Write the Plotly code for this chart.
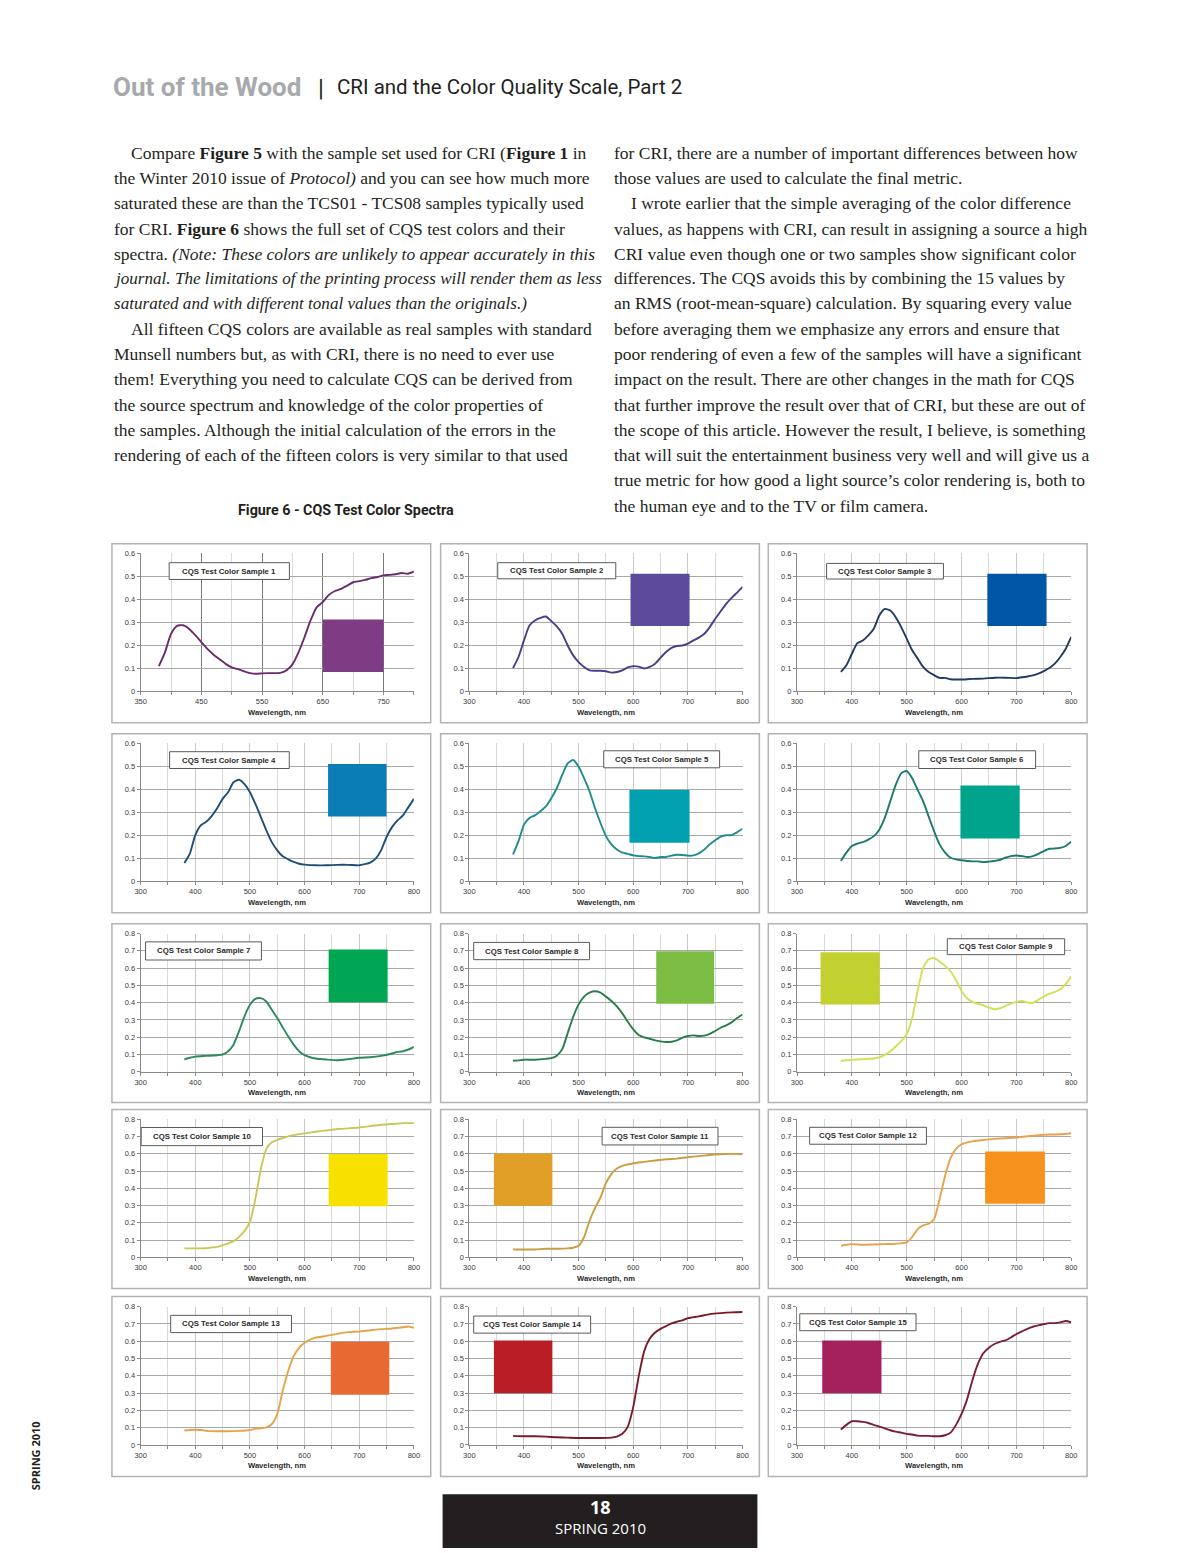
import plotly.graph_objects as go

# ---------------------------------------------------------------- data
S1_WL = list(range(380, 801, 10))
S1_R = [0.11, 0.17, 0.25, 0.285, 0.288, 0.272, 0.245, 0.215, 0.185, 0.16, 0.14, 0.12, 0.105, 0.097,
        0.088, 0.08, 0.077, 0.079, 0.08, 0.08, 0.081, 0.092, 0.118, 0.17, 0.237, 0.31, 0.367, 0.389,
        0.42, 0.437, 0.446, 0.46, 0.475, 0.48, 0.485, 0.493, 0.498, 0.505, 0.507, 0.51, 0.515, 0.512, 0.522]

S2_WL = list(range(380, 801, 10))
S2_R = [0.102, 0.15, 0.222, 0.287, 0.309, 0.32, 0.326, 0.306, 0.283, 0.251, 0.2, 0.157, 0.128, 0.107,
        0.092, 0.09, 0.09, 0.088, 0.082, 0.085, 0.092, 0.105, 0.11, 0.108, 0.1, 0.107, 0.121, 0.147,
        0.172, 0.19, 0.198, 0.2, 0.208, 0.222, 0.234, 0.251, 0.28, 0.316, 0.349, 0.381, 0.407, 0.43, 0.455]

S3_WL = list(range(380, 601, 10)) + [620, 640, 660, 680, 700, 710, 720, 730, 740, 750, 760, 770, 780, 790, 800]
S3_R = [0.085, 0.114, 0.164, 0.21, 0.222, 0.244, 0.273, 0.33, 0.359, 0.352, 0.323, 0.28, 0.23, 0.179,
        0.143, 0.107, 0.085, 0.071, 0.059, 0.059, 0.053, 0.052, 0.052, 0.055, 0.056, 0.06, 0.06, 0.058,
        0.062, 0.065, 0.07, 0.078, 0.089, 0.102, 0.121, 0.15, 0.186, 0.237]

S4_WL = list(range(380, 601, 10)) + [620, 640, 660, 680, 700, 710, 720, 730, 740, 750, 760, 770, 780, 790, 800]
S4_R = [0.079, 0.12, 0.2, 0.243, 0.258, 0.283, 0.317, 0.358, 0.387, 0.43, 0.441, 0.422, 0.387, 0.336,
        0.279, 0.221, 0.17, 0.134, 0.108, 0.095, 0.084, 0.076, 0.072, 0.069, 0.069, 0.071, 0.071, 0.069,
        0.074, 0.081, 0.098, 0.134, 0.192, 0.235, 0.264, 0.286, 0.322, 0.358]

S5_WL = list(range(380, 801, 10))
S5_R = [0.117, 0.174, 0.246, 0.275, 0.286, 0.304, 0.325, 0.361, 0.404, 0.462, 0.512, 0.527, 0.498, 0.448,
        0.39, 0.318, 0.253, 0.196, 0.16, 0.138, 0.124, 0.119, 0.112, 0.109, 0.108, 0.105, 0.101, 0.105,
        0.105, 0.111, 0.115, 0.114, 0.111, 0.112, 0.121, 0.138, 0.16, 0.178, 0.194, 0.2, 0.2, 0.213, 0.228]

S6_WL = list(range(380, 801, 10))
S6_R = [0.088, 0.124, 0.153, 0.163, 0.17, 0.181, 0.196, 0.224, 0.275, 0.347, 0.419, 0.469, 0.479, 0.448,
        0.397, 0.347, 0.282, 0.217, 0.16, 0.124, 0.102, 0.095, 0.091, 0.088, 0.086, 0.086, 0.083, 0.085,
        0.088, 0.092, 0.102, 0.109, 0.112, 0.109, 0.105, 0.109, 0.119, 0.131, 0.141, 0.142, 0.145, 0.153, 0.171]

S7_WL = [380, 390, 400, 420, 440, 450] + list(range(460, 621, 10)) + [640, 660, 680, 700, 720, 740, 760, 770, 780, 790, 800]
S7_R = [0.071, 0.081, 0.088, 0.092, 0.096, 0.1, 0.119, 0.157, 0.234, 0.321, 0.388, 0.422, 0.426, 0.407,
        0.359, 0.311, 0.257, 0.205, 0.157, 0.119, 0.096, 0.084, 0.077, 0.071, 0.067, 0.073, 0.081, 0.084,
        0.092, 0.106, 0.115, 0.119, 0.129, 0.144]

S8_WL = [380, 390, 400, 420, 440, 450] + list(range(460, 801, 10))
S8_R = [0.064, 0.066, 0.07, 0.07, 0.075, 0.079, 0.093, 0.131, 0.224, 0.317, 0.39, 0.435, 0.458, 0.466,
        0.458, 0.435, 0.41, 0.379, 0.338, 0.29, 0.245, 0.213, 0.199, 0.191, 0.182, 0.176, 0.172, 0.174,
        0.182, 0.197, 0.207, 0.211, 0.207, 0.209, 0.22, 0.236, 0.255, 0.269, 0.286, 0.311, 0.332]

S9_WL = [380, 390, 400, 420, 440, 450] + list(range(460, 801, 10))
S9_R = [0.062, 0.067, 0.069, 0.073, 0.077, 0.083, 0.098, 0.119, 0.146, 0.177, 0.218, 0.312, 0.468, 0.603,
        0.651, 0.659, 0.638, 0.613, 0.582, 0.53, 0.468, 0.426, 0.405, 0.393, 0.385, 0.372, 0.362, 0.368,
        0.38, 0.395, 0.405, 0.41, 0.401, 0.399, 0.416, 0.437, 0.451, 0.462, 0.478, 0.509, 0.551]

S10_WL = [380, 400, 420] + list(range(430, 581, 10)) + list(range(600, 801, 20))
S10_R = [0.052, 0.052, 0.053, 0.058, 0.061, 0.071, 0.081, 0.094, 0.119, 0.152, 0.205, 0.34, 0.512, 0.628,
         0.666, 0.681, 0.691, 0.701, 0.708, 0.718, 0.727, 0.735, 0.743, 0.747, 0.752, 0.76, 0.768, 0.772,
         0.777, 0.777]

S11_WL = [380, 400, 420, 440, 460, 480, 490] + list(range(500, 601, 10)) + list(range(620, 801, 20))
S11_R = [0.046, 0.046, 0.046, 0.05, 0.05, 0.052, 0.056, 0.067, 0.118, 0.212, 0.285, 0.347, 0.43, 0.482,
         0.514, 0.53, 0.538, 0.545, 0.553, 0.561, 0.568, 0.572, 0.58, 0.586, 0.593, 0.597, 0.599, 0.597]

S12_WL = [380, 390, 400, 420, 440, 460, 480] + list(range(500, 601, 10)) + list(range(620, 801, 20))
S12_R = [0.067, 0.073, 0.077, 0.073, 0.075, 0.077, 0.079, 0.087, 0.118, 0.164, 0.185, 0.195, 0.222, 0.337,
         0.472, 0.576, 0.628, 0.655, 0.672, 0.68, 0.686, 0.69, 0.694, 0.701, 0.707, 0.711, 0.713, 0.719]

S13_WL = [380, 390, 400, 410, 420, 440, 460, 480] + list(range(500, 621, 10)) + list(range(640, 781, 20)) + [790, 800]
S13_R = [0.083, 0.086, 0.088, 0.086, 0.081, 0.079, 0.079, 0.081, 0.086, 0.094, 0.096, 0.102, 0.121, 0.178,
         0.313, 0.428, 0.514, 0.562, 0.591, 0.61, 0.62, 0.631, 0.643, 0.653, 0.656, 0.664, 0.67, 0.674,
         0.681, 0.685, 0.678]

S14_WL = list(range(380, 561, 20)) + list(range(570, 701, 10)) + list(range(720, 801, 20))
S14_R = [0.052, 0.05, 0.05, 0.048, 0.044, 0.042, 0.04, 0.04, 0.04, 0.042, 0.048, 0.064, 0.106, 0.22,
         0.397, 0.543, 0.615, 0.651, 0.672, 0.688, 0.703, 0.713, 0.721, 0.734, 0.744, 0.757, 0.763,
         0.767, 0.769]

S15_WL = list(range(380, 801, 10))
S15_R = [0.089, 0.116, 0.137, 0.137, 0.133, 0.127, 0.116, 0.106, 0.096, 0.085, 0.077, 0.071, 0.064, 0.06,
         0.054, 0.052, 0.052, 0.05, 0.05, 0.056, 0.071, 0.116, 0.179, 0.262, 0.376, 0.47, 0.532, 0.563,
         0.584, 0.597, 0.605, 0.622, 0.642, 0.657, 0.672, 0.684, 0.692, 0.699, 0.705, 0.705, 0.709,
         0.717, 0.709]

SAMPLE_NAMES = [f"CQS Test Color Sample {i}" for i in range(1, 16)]
X_TICK_STARTS = [350] + [300] * 14
Y_MAX = [0.6] * 6 + [0.8] * 9
X_TITLE = "Wavelength, nm"

SERIES = [(S1_WL, S1_R), (S2_WL, S2_R), (S3_WL, S3_R), (S4_WL, S4_R), (S5_WL, S5_R),
          (S6_WL, S6_R), (S7_WL, S7_R), (S8_WL, S8_R), (S9_WL, S9_R), (S10_WL, S10_R),
          (S11_WL, S11_R), (S12_WL, S12_R), (S13_WL, S13_R), (S14_WL, S14_R), (S15_WL, S15_R)]

# ---------------------------------------------------------------- styles / layout
LINE_COLORS = ["#6B2C6E", "#4A3D8A", "#1F3B63", "#1E4F78", "#1E8C8E", "#1B7A6E", "#2E8A5C", "#2A7D4B",
               "#D4DF55", "#CCC658", "#CC9C42", "#E9A24C", "#E3A547", "#7A1A28", "#7A1B3C"]
SWATCH_COLORS = ["#7D3C84", "#5C4B9B", "#0056A6", "#0A7DB5", "#00A0B0", "#00A48C", "#00A651", "#7BBE43",
                 "#C2D12F", "#F8E000", "#E09F26", "#F7921E", "#E86A33", "#B81E24", "#A5215E"]
# swatch rectangle (x0, x1, y0, y1) and caption box (x0, x1, y0, y1), in each panel's axis units
SWATCH_POS = [(650, 750, 0.085, 0.313), (595, 703, 0.285, 0.512), (647, 755, 0.285, 0.512),
              (643, 750, 0.281, 0.509), (593, 703, 0.167, 0.396), (598, 706, 0.186, 0.416),
              (644, 752, 0.403, 0.708), (642, 748, 0.394, 0.698), (343, 451, 0.389, 0.692),
              (644, 752, 0.296, 0.599), (345, 452, 0.299, 0.601), (643, 752, 0.31, 0.613),
              (648, 755, 0.29, 0.597), (345, 452, 0.299, 0.605), (346, 454, 0.299, 0.605)]
CAPTION_POS = [(397, 595, 0.487, 0.56), (352, 568, 0.49, 0.56), (354, 567, 0.489, 0.557),
               (353, 572, 0.49, 0.563), (546, 758, 0.493, 0.567), (522, 735, 0.49, 0.567),
               (309, 521, 0.647, 0.752), (308, 520, 0.649, 0.749), (574, 788, 0.678, 0.77),
               (301, 523, 0.647, 0.752), (543, 755, 0.651, 0.753), (323, 536, 0.655, 0.753),
               (355, 576, 0.65, 0.75), (308, 522, 0.647, 0.746), (305, 517, 0.661, 0.759)]

W, H = 1200, 1553


def px(x):
    return x / W


def py(y):
    return 1 - y / H


PLOT_COLS = [(136, 412), (468, 744), (799, 1076)]
PLOT_ROWS = [(552.7, 691.5), (743.5, 882.3), (935, 1074), (1121.7, 1260.7), (1310.3, 1449.3)]
BOX_COLS = [(107, 429), (439, 761), (770, 1092)]
BOX_ROWS = [(543, 723), (734, 914), (925, 1105), (1112, 1292), (1300, 1481)]

TEXT = "#231f20"
SERIF = "Liberation Serif"
SANS = "Liberation Sans, Arial"

fig = go.Figure()
shapes = []
annotations = []
layout_axes = {}

for i, (wl, refl) in enumerate(SERIES):
    n = i + 1
    r, c = divmod(i, 3)
    xs = "x" if n == 1 else f"x{n}"
    ys = "y" if n == 1 else f"y{n}"
    fig.add_trace(go.Scatter(x=wl, y=refl, mode="lines", xaxis=xs, yaxis=ys,
                             line=dict(color=LINE_COLORS[i], width=1.9, shape="spline", smoothing=0.6),
                             showlegend=False, hoverinfo="x+y"))
    x0p, x1p = PLOT_COLS[c]
    ytp, ybp = PLOT_ROWS[r]
    xmin = X_TICK_STARTS[i]
    major_grid = "#7a7a7a" if n == 1 else "#c9c9c9"
    layout_axes["xaxis" if n == 1 else f"xaxis{n}"] = dict(
        domain=[px(x0p), px(x1p)], anchor=ys, range=[xmin, 800], tick0=xmin, dtick=100,
        showgrid=True, gridcolor=major_grid, gridwidth=1,
        minor=dict(dtick=50, tick0=xmin, showgrid=True, gridcolor="#dadada", gridwidth=1,
                   ticks="outside", ticklen=3, tickcolor="#8a8a8a"),
        ticks="outside", ticklen=3, tickcolor="#8a8a8a",
        showline=True, linecolor="#8a8a8a", linewidth=1, zeroline=False,
        tickfont=dict(family=SANS, size=7.5, color="#3a3a3a"), fixedrange=True)
    layout_axes["yaxis" if n == 1 else f"yaxis{n}"] = dict(
        domain=[py(ybp), py(ytp)], anchor=xs, range=[0, Y_MAX[i]], dtick=0.1, tick0=0,
        showgrid=True, gridcolor="#a9a9a9", gridwidth=1,
        ticks="outside", ticklen=3, tickcolor="#8a8a8a",
        showline=True, linecolor="#8a8a8a", linewidth=1, zeroline=False,
        tickfont=dict(family=SANS, size=7.5, color="#3a3a3a"), fixedrange=True)

    # panel frame
    bx0, bx1 = BOX_COLS[c]
    by0, by1 = BOX_ROWS[r]
    shapes.append(dict(type="rect", xref="paper", yref="paper", x0=px(bx0), x1=px(bx1),
                       y0=py(by1), y1=py(by0), line=dict(color="#b3b3b3", width=1.5), layer="below"))
    # colour swatch
    sx0, sx1, sy0, sy1 = SWATCH_POS[i]
    shapes.append(dict(type="rect", xref=xs, yref=ys, x0=sx0, x1=sx1, y0=sy0, y1=sy1,
                       fillcolor=SWATCH_COLORS[i], line=dict(width=0), layer="between"))
    # caption box
    cx0, cx1, cy0, cy1 = CAPTION_POS[i]
    shapes.append(dict(type="rect", xref=xs, yref=ys, x0=cx0, x1=cx1, y0=cy0, y1=cy1,
                       fillcolor="white", line=dict(color="#5a5a5a", width=1), layer="above"))
    annotations.append(dict(xref=xs, yref=ys, x=(cx0 + cx1) / 2, y=(cy0 + cy1) / 2,
                            text=f"<b>{SAMPLE_NAMES[i]}</b>", showarrow=False,
                            font=dict(family=SANS, size=7.8, color="#2a2a2a"),
                            xanchor="center", yanchor="middle"))
    # x axis title
    annotations.append(dict(xref="paper", yref="paper", x=px((x0p + x1p) / 2), y=py(ybp + 21),
                            text=f"<b>{X_TITLE}</b>", showarrow=False,
                            font=dict(family=SANS, size=7.6, color="#2a2a2a"),
                            xanchor="center", yanchor="middle"))

# ---------------------------------------------------------------- page text
LEFT_LINES = [
    (124, 150, "Compare <b>Figure 5</b> with the sample set used for CRI (<b>Figure 1</b> in"),
    (107, 175, "the Winter 2010 issue of <i>Protocol)</i> and you can see how much more"),
    (107, 200, "saturated these are than the TCS01 - TCS08 samples typically used"),
    (107, 226, "for CRI. <b>Figure 6</b> shows the full set of CQS test colors and their"),
    (107, 251, "spectra. <i>(Note: These colors are unlikely to appear accurately in this</i>"),
    (107, 276, "<i>journal. The limitations of the printing process will render them as less</i>"),
    (107, 301, "<i>saturated and with different tonal values than the originals.)</i>"),
    (124, 327, "All fifteen CQS colors are available as real samples with standard"),
    (107, 352, "Munsell numbers but, as with CRI, there is no need to ever use"),
    (107, 377, "them! Everything you need to calculate CQS can be derived from"),
    (107, 403, "the source spectrum and knowledge of the color properties of"),
    (107, 428, "the samples. Although the initial calculation of the errors in the"),
    (107, 454, "rendering of each of the fifteen colors is very similar to that used"),
]
RIGHT_LINES = [
    (612, 150, "for CRI, there are a number of important differences between how"),
    (612, 175, "those values are used to calculate the final metric."),
    (629, 200, "I wrote earlier that the simple averaging of the color difference"),
    (612, 226, "values, as happens with CRI, can result in assigning a source a high"),
    (612, 251, "CRI value even though one or two samples show significant color"),
    (612, 276, "differences. The CQS avoids this by combining the 15 values by"),
    (612, 301, "an RMS (root-mean-square) calculation. By squaring every value"),
    (612, 327, "before averaging them we emphasize any errors and ensure that"),
    (612, 352, "poor rendering of even a few of the samples will have a significant"),
    (612, 377, "impact on the result. There are other changes in the math for CQS"),
    (612, 403, "that further improve the result over that of CRI, but these are out of"),
    (612, 428, "the scope of this article. However the result, I believe, is something"),
    (612, 454, "that will suit the entertainment business very well and will give us a"),
    (612, 479, "true metric for how good a light source\u2019s color rendering is, both to"),
    (612, 505, "the human eye and to the TV or film camera."),
]
for (x, y, t) in LEFT_LINES + RIGHT_LINES:
    size = 17.1 if t.startswith("<i>") else 17.5
    annotations.append(dict(xref="paper", yref="paper", x=px(x), y=py(y), text=t, showarrow=False,
                            xanchor="left", yanchor="middle",
                            font=dict(family=SERIF, size=size, color=TEXT)))

# header
annotations.append(dict(xref="paper", yref="paper", x=px(106), y=py(83), text="<b>Out of the Wood</b>",
                        showarrow=False, xanchor="left", yanchor="middle",
                        font=dict(family="Roboto", size=26, color="#a7a9ac")))
annotations.append(dict(xref="paper", yref="paper", x=px(318), y=py(84), text="|",
                        showarrow=False, xanchor="center", yanchor="middle",
                        font=dict(family="Roboto", size=24, color=TEXT)))
annotations.append(dict(xref="paper", yref="paper", x=px(332), y=py(83),
                        text="CRI and the Color Quality Scale, Part 2",
                        showarrow=False, xanchor="left", yanchor="middle",
                        font=dict(family="Roboto", size=20.5, color=TEXT)))
# figure title
annotations.append(dict(xref="paper", yref="paper", x=px(343), y=py(509),
                        text="<b>Figure 6 - CQS Test Color Spectra</b>",
                        showarrow=False, xanchor="center", yanchor="middle",
                        font=dict(family="Roboto", size=14.3, color=TEXT)))
# footer
shapes.append(dict(type="rect", xref="paper", yref="paper", x0=px(441), x1=px(759), y0=py(1553),
                   y1=py(1499), fillcolor="#231f20", line=dict(width=0), layer="below"))
annotations.append(dict(xref="paper", yref="paper", x=px(600), y=py(1512), text="<b>18</b>",
                        showarrow=False, xanchor="center", yanchor="middle",
                        font=dict(family="Open Sans", size=18, color="white")))
annotations.append(dict(xref="paper", yref="paper", x=px(600), y=py(1533), text="SPRING 2010",
                        showarrow=False, xanchor="center", yanchor="middle",
                        font=dict(family="Open Sans", size=15, color="white")))
annotations.append(dict(xref="paper", yref="paper", x=px(30), y=py(1460), text="<b>SPRING 2010</b>",
                        showarrow=False, xanchor="center", yanchor="middle", textangle=-90,
                        font=dict(family="Open Sans", size=11, color=TEXT)))

fig.update_layout(width=W, height=H, margin=dict(l=0, r=0, t=0, b=0),
                  paper_bgcolor="white", plot_bgcolor="white",
                  shapes=shapes, annotations=annotations, showlegend=False, **layout_axes)

PAGE_FIX = ("document.documentElement.style.margin='0';document.body.style.margin='0';"
            "document.documentElement.style.overflow='hidden';document.body.style.overflow='hidden';")
fig.write_html("out.html", config={"displayModeBar": False}, post_script=PAGE_FIX)
